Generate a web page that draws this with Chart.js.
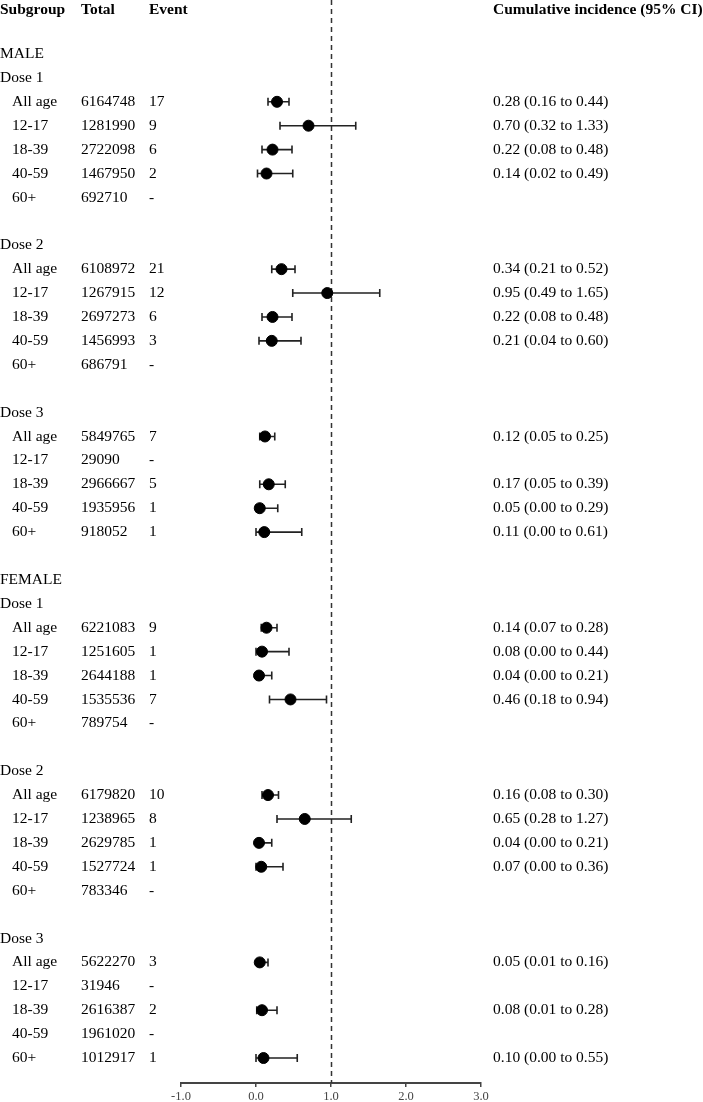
<!DOCTYPE html>
<html>
<head>
<meta charset="utf-8">
<script src="https://cdn.jsdelivr.net/npm/chart.js@4"></script>
<style>
  html, body { margin: 0; padding: 0; background: #fff; }
  #wrap { width: 703px; height: 1102px; position: relative; }
</style>
</head>
<body>
<div id="wrap"><canvas id="forest"></canvas></div>
<script>
// Row labels and kinds (sex / dose / age / blank)
const labels = [
  'MALE', 'Dose 1', 'All age', '12-17', '18-39', '40-59', '60+', '',
  'Dose 2', 'All age', '12-17', '18-39', '40-59', '60+', '',
  'Dose 3', 'All age', '12-17', '18-39', '40-59', '60+', '',
  'FEMALE', 'Dose 1', 'All age', '12-17', '18-39', '40-59', '60+', '',
  'Dose 2', 'All age', '12-17', '18-39', '40-59', '60+', '',
  'Dose 3', 'All age', '12-17', '18-39', '40-59', '60+'
];
const kinds = [
  'sex', 'dose', 'age', 'age', 'age', 'age', 'age', 'blank',
  'dose', 'age', 'age', 'age', 'age', 'age', 'blank',
  'dose', 'age', 'age', 'age', 'age', 'age', 'blank',
  'sex', 'dose', 'age', 'age', 'age', 'age', 'age', 'blank',
  'dose', 'age', 'age', 'age', 'age', 'age', 'blank',
  'dose', 'age', 'age', 'age', 'age', 'age'
];
const totals = [
  null, null, 6164748, 1281990, 2722098, 1467950, 692710, null,
  null, 6108972, 1267915, 2697273, 1456993, 686791, null,
  null, 5849765, 29090, 2966667, 1935956, 918052, null,
  null, null, 6221083, 1251605, 2644188, 1535536, 789754, null,
  null, 6179820, 1238965, 2629785, 1527724, 783346, null,
  null, 5622270, 31946, 2616387, 1961020, 1012917
];
const events = [
  null, null, '17', '9', '6', '2', '-', null,
  null, '21', '12', '6', '3', '-', null,
  null, '7', '-', '5', '1', '1', null,
  null, null, '9', '1', '1', '7', '-', null,
  null, '10', '8', '1', '1', '-', null,
  null, '3', '-', '2', '-', '1'
];
const estimate = [
  null, null, 0.28, 0.70, 0.22, 0.14, null, null,
  null, 0.34, 0.95, 0.22, 0.21, null, null,
  null, 0.12, null, 0.17, 0.05, 0.11, null,
  null, null, 0.14, 0.08, 0.04, 0.46, null, null,
  null, 0.16, 0.65, 0.04, 0.07, null, null,
  null, 0.05, null, 0.08, null, 0.10
];
const lower = [
  null, null, 0.16, 0.32, 0.08, 0.02, null, null,
  null, 0.21, 0.49, 0.08, 0.04, null, null,
  null, 0.05, null, 0.05, 0.00, 0.00, null,
  null, null, 0.07, 0.00, 0.00, 0.18, null, null,
  null, 0.08, 0.28, 0.00, 0.00, null, null,
  null, 0.01, null, 0.01, null, 0.00
];
const upper = [
  null, null, 0.44, 1.33, 0.48, 0.49, null, null,
  null, 0.52, 1.65, 0.48, 0.60, null, null,
  null, 0.25, null, 0.39, 0.29, 0.61, null,
  null, null, 0.28, 0.44, 0.21, 0.94, null, null,
  null, 0.30, 1.27, 0.21, 0.36, null, null,
  null, 0.16, null, 0.28, null, 0.55
];
const xTicks = [-1, 0, 1, 2, 3];
const refLine = 1.0;

const points = [];
estimate.forEach((v, i) => { if (v !== null) points.push({ x: v, y: i }); });

const serif = '"Liberation Serif", "Times New Roman", serif';

// whiskers + reference line
const whiskers = {
  id: 'whiskers',
  beforeDatasetsDraw(chart) {
    const { ctx, scales: { x, y }, chartArea } = chart;
    ctx.save();
    // dashed reference line
    ctx.strokeStyle = '#333';
    ctx.lineWidth = 1.5;
    ctx.setLineDash([5, 4]);
    const rx = Math.round(x.getPixelForValue(refLine)) + 0.5;
    ctx.beginPath();
    ctx.moveTo(rx, 0);
    ctx.lineTo(rx, chartArea.bottom);
    ctx.stroke();
    ctx.setLineDash([]);
    // CI bars
    ctx.strokeStyle = '#222';
    ctx.lineWidth = 1.6;
    estimate.forEach((v, i) => {
      if (v === null) return;
      const py = y.getPixelForValue(i);
      const x1 = x.getPixelForValue(lower[i]);
      const x2 = x.getPixelForValue(upper[i]);
      ctx.beginPath();
      ctx.moveTo(x1, py); ctx.lineTo(x2, py);
      ctx.moveTo(x1, py - 4); ctx.lineTo(x1, py + 4);
      ctx.moveTo(x2, py - 4); ctx.lineTo(x2, py + 4);
      ctx.stroke();
    });
    ctx.restore();
  }
};

// table columns
const table = {
  id: 'table',
  afterDraw(chart) {
    const { ctx, scales: { y } } = chart;
    ctx.save();
    ctx.fillStyle = '#000';
    ctx.textBaseline = 'middle';
    ctx.textAlign = 'left';
    const hy = y.getPixelForValue(-1.85);
    ctx.font = 'bold 15.5px ' + serif;
    ctx.fillText('Subgroup', 0, hy);
    ctx.fillText('Total', 81, hy);
    ctx.fillText('Event', 149, hy);
    ctx.fillText('Cumulative incidence (95% CI)', 493, hy);
    ctx.font = '15.5px ' + serif;
    labels.forEach((lab, i) => {
      const py = y.getPixelForValue(i);
      if (kinds[i] === 'blank') return;
      ctx.fillText(lab, kinds[i] === 'age' ? 12 : 0, py);
      if (totals[i] !== null) ctx.fillText(String(totals[i]), 81, py);
      if (events[i] !== null) ctx.fillText(events[i], 149, py);
      if (estimate[i] !== null) {
        const txt = estimate[i].toFixed(2) + ' (' + lower[i].toFixed(2) +
          ' to ' + upper[i].toFixed(2) + ')';
        ctx.fillText(txt, 493, py);
      }
    });
    ctx.restore();
  }
};

new Chart(document.getElementById('forest'), {
  type: 'scatter',
  data: {
    datasets: [{
      data: points,
      backgroundColor: '#000',
      borderColor: '#000',
      pointRadius: 5.5,
      pointHoverRadius: 5.5
    }]
  },
  options: {
    responsive: true,
    maintainAspectRatio: false,
    animation: false,
    layout: { autoPadding: false, padding: { left: 181, right: 222, top: 1, bottom: 0 } },
    plugins: { legend: { display: false }, tooltip: { enabled: false } },
    scales: {
      x: {
        type: 'linear',
        min: -1, max: 3,
        afterBuildTicks(axis) { axis.ticks = xTicks.map(v => ({ value: v })); },
        afterFit(axis) { axis.height = 19; },
        border: { display: true, color: '#444', width: 2 },
        grid: { drawOnChartArea: false, drawTicks: true, tickLength: 4, color: '#444', lineWidth: 1.5 },
        ticks: {
          padding: 3,
          color: '#444',
          font: { family: serif, size: 12.5, lineHeight: 1 },
          callback: v => v.toFixed(1)
        }
      },
      y: {
        type: 'linear',
        display: false,
        reverse: true,
        min: -2.217,
        max: 43.045
      }
    }
  },
  plugins: [whiskers, table]
});
</script>
</body>
</html>
